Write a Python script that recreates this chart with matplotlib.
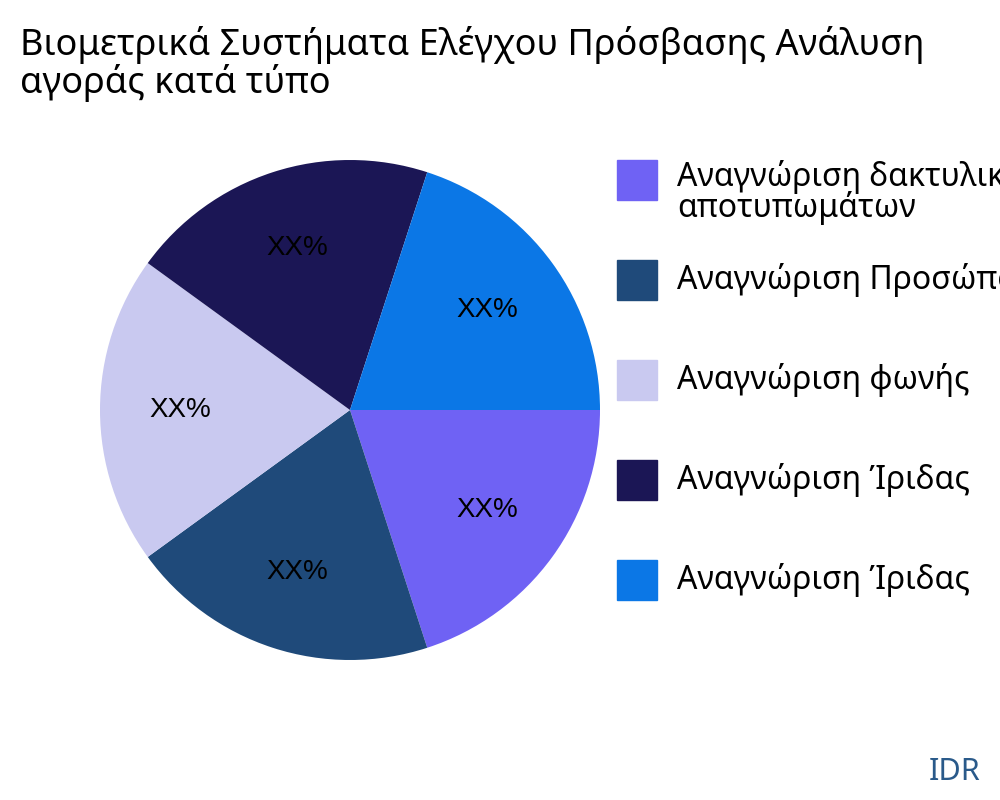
import matplotlib.pyplot as plt
from matplotlib.patches import Rectangle

labels = ['Αναγνώριση δακτυλικών\nαποτυπωμάτων', 'Αναγνώριση Προσώπου', 'Αναγνώριση φωνής',
          'Αναγνώριση Ίριδας', 'Αναγνώριση Ίριδας']
values = [20, 20, 20, 20, 20]
colors = ['#6f62f4', '#1f4a7a', '#c9c9f0', '#1b1655', '#0b77e6']

plt.rcParams['font.family'] = ['Noto Sans', 'DejaVu Sans']
fig = plt.figure(figsize=(10, 8), dpi=100)
ax = fig.add_axes([0.1, 0.175, 0.5, 0.625])
ax.pie(values, colors=colors, startangle=0, counterclock=False,
       autopct=lambda p: 'XX%', pctdistance=0.68,
       textprops={'fontsize': 20, 'family': 'Liberation Sans'})
ax.set_xlim(-1, 1)
ax.set_ylim(-1, 1)
ax.set_aspect('equal')

fig.text(0.02, 0.968, 'Βιομετρικά Συστήματα Ελέγχου Πρόσβασης Ανάλυση\nαγοράς κατά τύπο',
         fontsize=26, va='top', ha='left', linespacing=1.0)

for i, (lab, c) in enumerate(zip(labels, colors)):
    yc = 1 - (180 + 100 * i) / 800
    fig.patches.append(Rectangle((0.617, yc - 0.025), 0.04, 0.05, color=c,
                                 transform=fig.transFigure, figure=fig))
    if '\n' in lab:
        fig.text(0.677, 1 - 160 / 800, lab, fontsize=23, va='top', ha='left', linespacing=0.9)
    else:
        fig.text(0.677, yc, lab, fontsize=23, va='center', ha='left')

fig.text(0.98, 0.035, 'IDR', fontsize=22, color='#2a5a8a', ha='right', va='center')
fig.savefig('out.png')
